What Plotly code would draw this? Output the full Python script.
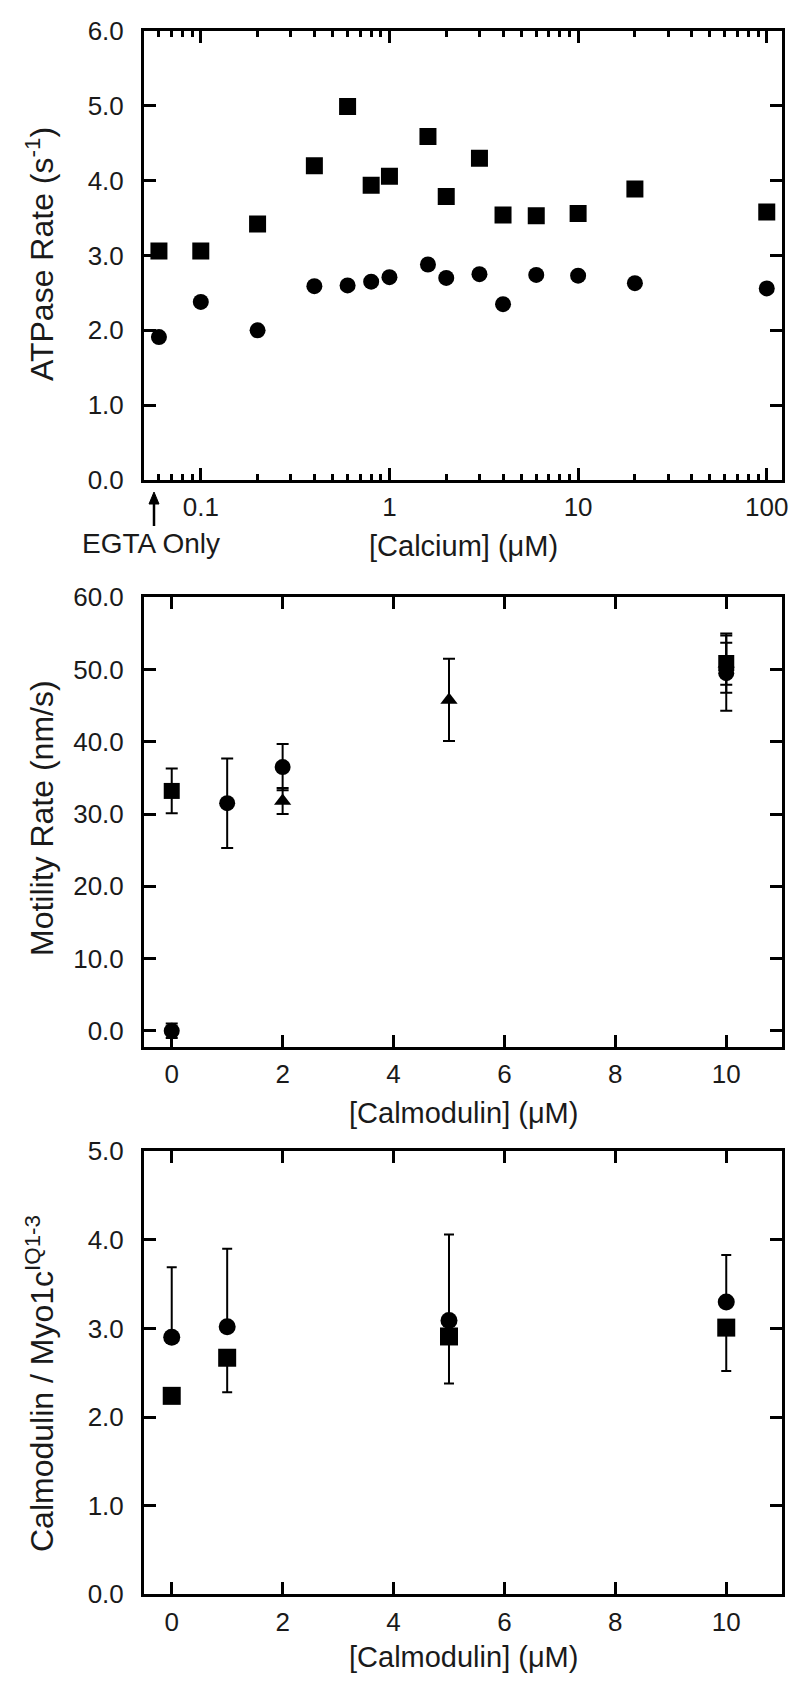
import math
import plotly.graph_objects as go

# ---------------- Data ----------------
# Panel A: ATPase rate vs [Calcium]
ca_conc = [0.06, 0.1, 0.2, 0.4, 0.6, 0.8, 1.0, 1.6, 2.0, 3.0, 4.0, 6.0, 10.0, 20.0, 100.0]
atp_square = [3.06, 3.06, 3.42, 4.20, 4.99, 3.94, 4.06, 4.59, 3.79, 4.30, 3.54, 3.53, 3.56, 3.89, 3.58]
atp_circle = [1.91, 2.38, 2.00, 2.59, 2.60, 2.65, 2.71, 2.88, 2.70, 2.75, 2.35, 2.74, 2.73, 2.63, 2.56]

# Panel B: Motility rate vs [Calmodulin]
mot_sq_x = [0, 10]
mot_sq_y = [33.2, 50.9]
mot_sq_err = [3.1, 4.1]
mot_ci_x = [0, 1, 2, 10]
mot_ci_y = [0.0, 31.5, 36.5, 49.5]
mot_ci_err = [1.0, 6.2, 3.2, 5.2]
mot_tr_x = [2, 5, 10]
mot_tr_y = [31.8, 45.8, 50.8]
mot_tr_err = [1.8, 5.7, 2.9]

# Panel C: Calmodulin / Myo1c IQ1-3 vs [Calmodulin]
bind_x = [0, 1, 5, 10]
bind_ci_y = [2.90, 3.02, 3.09, 3.30]
bind_ci_err_up = [0.79, 0.88, 0.97, 0.53]
bind_sq_y = [2.24, 2.67, 2.91, 3.01]
bind_sq_err_down = [0.0, 0.39, 0.53, 0.49]

log_major = [0.1, 1, 10, 100]
log_major_text = ["0.1", "1", "10", "100"]

# ---------------- Layout helpers ----------------
W, H = 800, 1683
FONT = "Liberation Sans, Arial, Helvetica, sans-serif"
TXT = "#1a1a1a"
TICK_SIZE = 26
XTITLE_SIZE = 29
YTITLE_SIZE = 32


def px_x(p):
    return p / W


def px_y(p):
    return 1 - p / H


x_dom = [px_x(144), px_x(781.7)]
dom_top = [px_y(480), px_y(31)]
dom_mid = [px_y(1046.7), px_y(597.3)]
dom_bot = [px_y(1594.3), px_y(1151.3)]

axis_common = dict(
    showline=True, linewidth=3, linecolor="black", mirror="ticks",
    ticks="inside", ticklen=12, tickwidth=3, tickcolor="black",
    showgrid=False, zeroline=False, automargin=False,
    tickfont=dict(family=FONT, size=TICK_SIZE, color=TXT),
)
x_common = dict(axis_common, ticklabelstandoff=2)
y_common = dict(axis_common, ticklabelstandoff=12)

fig = go.Figure()

# Panel A traces
fig.add_trace(go.Scatter(
    x=ca_conc, y=atp_square, mode="markers", xaxis="x", yaxis="y",
    marker=dict(symbol="square", size=17, color="black"), showlegend=False))
fig.add_trace(go.Scatter(
    x=ca_conc, y=atp_circle, mode="markers", xaxis="x", yaxis="y",
    marker=dict(symbol="circle", size=16, color="black"), showlegend=False))

# Panel B traces
err_b = dict(type="data", visible=True, color="black", thickness=2, width=6)
fig.add_trace(go.Scatter(
    x=mot_tr_x, y=mot_tr_y, mode="markers", xaxis="x2", yaxis="y2",
    error_y=dict(array=mot_tr_err, **err_b),
    marker=dict(symbol="triangle-up", size=15, color="black"), showlegend=False))
fig.add_trace(go.Scatter(
    x=mot_ci_x, y=mot_ci_y, mode="markers", xaxis="x2", yaxis="y2",
    error_y=dict(array=mot_ci_err, **err_b),
    marker=dict(symbol="circle", size=16, color="black"), showlegend=False))
fig.add_trace(go.Scatter(
    x=mot_sq_x, y=mot_sq_y, mode="markers", xaxis="x2", yaxis="y2",
    error_y=dict(array=mot_sq_err, **err_b),
    marker=dict(symbol="square", size=16, color="black"), showlegend=False))

# Panel C traces
err_c = dict(type="data", visible=True, color="black", thickness=2, width=5, symmetric=False)
fig.add_trace(go.Scatter(
    x=bind_x, y=bind_ci_y, mode="markers", xaxis="x3", yaxis="y3",
    error_y=dict(array=bind_ci_err_up, arrayminus=[0] * len(bind_x), **err_c),
    marker=dict(symbol="circle", size=17, color="black"), showlegend=False))
fig.add_trace(go.Scatter(
    x=bind_x, y=bind_sq_y, mode="markers", xaxis="x3", yaxis="y3",
    error_y=dict(array=[0] * len(bind_x), arrayminus=bind_sq_err_down, **err_c),
    marker=dict(symbol="square", size=18, color="black"), showlegend=False))

minor_vals = [m * 10 ** e for e in (-2, -1, 0, 1) for m in range(2, 10) if m * 10 ** e >= 0.055]

fig.update_layout(
    width=W, height=H,
    margin=dict(l=0, r=0, t=0, b=0, pad=0, autoexpand=False),
    paper_bgcolor="white", plot_bgcolor="white",
    font=dict(family=FONT, size=TICK_SIZE, color=TXT),
    xaxis=dict(
        domain=x_dom, anchor="y", type="log",
        range=[math.log10(0.05), math.log10(120)],
        tickmode="array", tickvals=log_major, ticktext=log_major_text,
        minor=dict(tickmode="array", tickvals=minor_vals, ticks="inside",
                   ticklen=6, tickwidth=3, tickcolor="black", showgrid=False),
        **x_common),
    yaxis=dict(domain=dom_top, anchor="x", range=[0, 6], dtick=1, tick0=0,
               tickformat=".1f", **y_common),
    xaxis2=dict(domain=x_dom, anchor="y2", range=[-0.5, 11], dtick=2, tick0=0,
                **x_common),
    yaxis2=dict(domain=dom_mid, anchor="x2", range=[-2.2, 60], dtick=10, tick0=0,
                tickformat=".1f", **y_common),
    xaxis3=dict(domain=x_dom, anchor="y3", range=[-0.5, 11], dtick=2, tick0=0,
                **x_common),
    yaxis3=dict(domain=dom_bot, anchor="x3", range=[0, 5], dtick=1, tick0=0,
                tickformat=".1f", **y_common),
)

xt_font = dict(family=FONT, size=XTITLE_SIZE, color=TXT)
yt_font = dict(family=FONT, size=YTITLE_SIZE, color=TXT)
annotations = [
    dict(text="[Calcium] (μM)", x=px_x(463), y=px_y(546), font=xt_font),
    dict(text="[Calmodulin] (μM)", x=px_x(463), y=px_y(1113), font=xt_font),
    dict(text="[Calmodulin] (μM)", x=px_x(463), y=px_y(1657), font=xt_font),
    dict(text="EGTA Only", x=px_x(151), y=px_y(543),
         font=dict(family=FONT, size=28, color=TXT)),
    dict(text="ATPase Rate (s<sup>-1</sup>)", x=px_x(40), y=px_y(254),
         textangle=-90, font=yt_font),
    dict(text="Motility Rate (nm/s)", x=px_x(42), y=px_y(818),
         textangle=-90, font=yt_font),
    dict(text="Calmodulin / Myo1c<sup>IQ1-3</sup>", x=px_x(40), y=px_y(1384),
         textangle=-90, font=yt_font),
]
for a in annotations:
    fig.add_annotation(xref="paper", yref="paper", showarrow=False,
                       xanchor="center", yanchor="middle", **a)

# Arrow marking the EGTA-only point (drawn as shapes)
fig.add_shape(type="line", xref="paper", yref="paper",
              x0=px_x(154), x1=px_x(154), y0=px_y(526), y1=px_y(500),
              line=dict(color="black", width=2.5))
fig.add_shape(type="path", xref="paper", yref="paper",
              path=f"M {px_x(149)} {px_y(504)} L {px_x(154)} {px_y(492)} L {px_x(159)} {px_y(504)} Z",
              fillcolor="black", line=dict(color="black", width=1))

fig.write_html("out.html", config={"displayModeBar": False},
               post_script="document.body.style.margin='0px';")
